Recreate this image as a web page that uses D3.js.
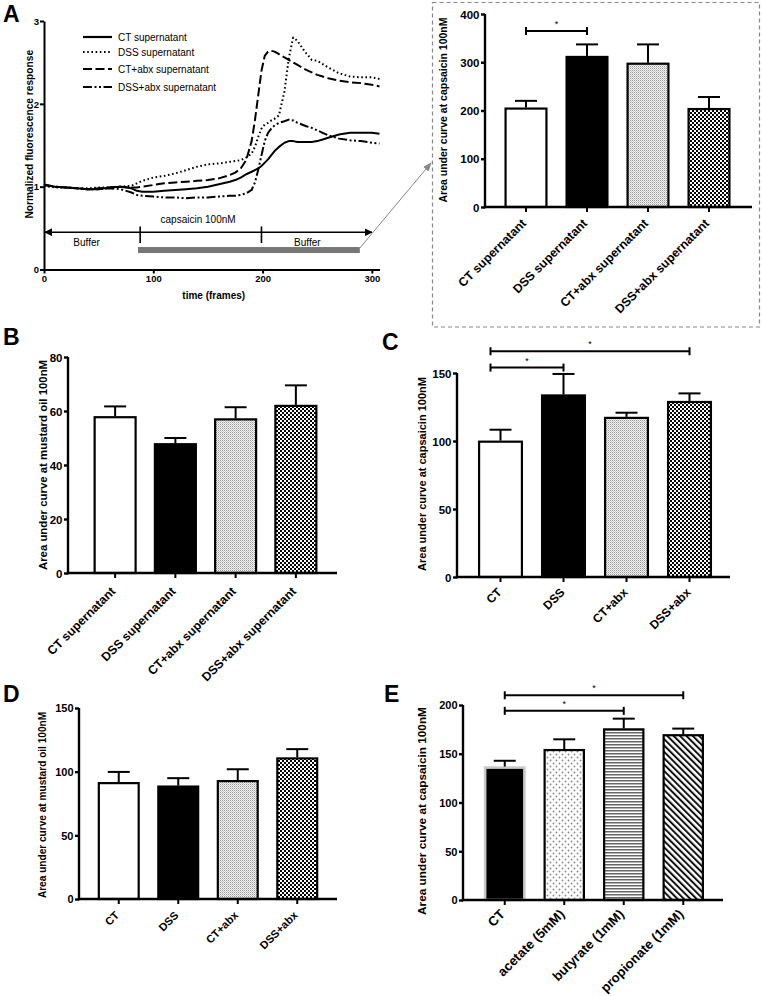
<!DOCTYPE html>
<html><head><meta charset="utf-8">
<script src="https://cdn.jsdelivr.net/npm/d3@7"></script>
<style>
body{margin:0;background:#fff}
svg{display:block}
text{font-family:"Liberation Sans",Arial,Helvetica,sans-serif}
</style>
</head><body>
<svg id="fig" width="763" height="996"></svg>
<script>
// ---------------- DATA ----------------
// Panel A (line chart): frames and normalized fluorescence response
const frames = [0,5,10,20,30,40,50,60,70,80,85,90,100,110,120,130,140,150,160,170,175,180,185,190,193,196,199,202,205,208,211,215,220,224,228,232,236,240,245,250,255,260,270,280,290,300,307];
const ctSup = [1.03,1.01,1.00,0.99,0.98,0.97,0.97,0.99,1.00,0.98,0.95,0.94,0.94,0.95,0.96,0.97,0.98,1.00,1.03,1.06,1.08,1.11,1.15,1.18,1.20,1.22,1.25,1.29,1.33,1.38,1.43,1.48,1.53,1.55,1.55,1.54,1.54,1.54,1.54,1.55,1.57,1.59,1.63,1.65,1.65,1.65,1.64];
const dssSup = [1.01,1.00,0.99,0.99,0.98,0.98,0.99,0.99,1.00,1.01,1.04,1.07,1.11,1.13,1.16,1.20,1.24,1.27,1.28,1.30,1.31,1.32,1.35,1.40,1.48,1.60,1.70,1.75,1.77,1.80,1.82,1.86,2.15,2.55,2.80,2.76,2.68,2.61,2.53,2.52,2.48,2.44,2.37,2.33,2.32,2.32,2.30];
const ctAbxSup = [1.02,1.01,1.00,0.99,0.98,0.97,0.98,0.99,1.00,0.99,0.99,1.00,1.02,1.04,1.05,1.06,1.07,1.08,1.10,1.14,1.17,1.22,1.32,1.55,1.80,2.10,2.40,2.58,2.63,2.64,2.63,2.60,2.56,2.53,2.50,2.47,2.44,2.41,2.38,2.35,2.33,2.31,2.28,2.26,2.25,2.23,2.21];
const dssAbxSup = [1.02,1.01,1.00,0.99,0.98,0.97,0.97,0.98,0.97,0.93,0.90,0.89,0.88,0.87,0.87,0.86,0.87,0.87,0.88,0.89,0.89,0.90,0.92,0.96,1.05,1.20,1.38,1.55,1.65,1.70,1.74,1.77,1.79,1.81,1.80,1.77,1.75,1.73,1.71,1.68,1.65,1.62,1.58,1.56,1.55,1.53,1.52];
const lineSeriesNames = ["CT supernatant","DSS supernatant","CT+abx supernatant","DSS+abx supernatant"];
const lineXTicks = [0,100,200,300];
const lineYTicks = [0,1,2,3];
const phaseTexts = ["Buffer","capsaicin 100nM","Buffer"];
const phaseBounds = [0, 88, 199, 300];     // frames
const capsaicinPeriod = [86, 289];        // frames (grey bar)

// Panel A (bar inset)
const aCategories = ["CT supernatant","DSS supernatant","CT+abx supernatant","DSS+abx supernatant"];
const aMeans = [204,311,297,203];
const aErrors = [16,26,40,25];
const aTicks = [0,100,200,300,400];
const aSigPairs = [[0,1]];
const aSigLevels = [365];

// Panel B
const bCategories = ["CT supernatant","DSS supernatant","CT+abx supernatant","DSS+abx supernatant"];
const bMeans = [57.7,47.7,56.9,61.9];
const bErrors = [4.0,2.3,4.5,7.6];
const bTicks = [0,20,40,60,80];

// Panel C
const cCategories = ["CT","DSS","CT+abx","DSS+abx"];
const cMeans = [99.5,133.5,117,128.7];
const cErrors = [8.8,15.8,3.8,6.3];
const cTicks = [0,50,100,150];
const cSigPairs = [[0,1],[0,3]];
const cSigLevels = [154,166];

// Panel D
const dCategories = ["CT","DSS","CT+abx","DSS+abx"];
const dMeans = [91,88.3,92.6,110.4];
const dErrors = [8.8,6.6,9.3,7.3];
const dTicks = [0,50,100,150];

// Panel E
const eCategories = ["CT","acetate (5mM)","butyrate (1mM)","propionate (1mM)"];
const eMeans = [135.8,153.8,175,169];
const eErrors = [7,11,11,6.8];
const eTicks = [0,50,100,150,200];
const eSigPairs = [[0,2],[0,3]];
const eSigLevels = [194,210];

// ---------------- DRAW ----------------
const svg = d3.select("#fig");
const FONT = "'Liberation Sans',Arial,sans-serif";
const defs = svg.append("defs");

// patterns
(function(){
  let p = defs.append("pattern").attr("id","stipple").attr("patternUnits","userSpaceOnUse").attr("width",2).attr("height",2);
  p.append("rect").attr("width",2).attr("height",2).attr("fill","#f2f2f2");
  p.append("rect").attr("x",0).attr("y",0).attr("width",1).attr("height",1).attr("fill","#9a9a9a");
  p.append("rect").attr("x",1).attr("y",1).attr("width",1).attr("height",1).attr("fill","#c8c8c8");

  p = defs.append("pattern").attr("id","checker").attr("patternUnits","userSpaceOnUse").attr("width",4).attr("height",4);
  p.append("rect").attr("width",4).attr("height",4).attr("fill","#000");
  p.append("rect").attr("x",0).attr("y",0).attr("width",2).attr("height",2).attr("fill","#fff");
  p.append("rect").attr("x",2).attr("y",2).attr("width",2).attr("height",2).attr("fill","#fff");

  p = defs.append("pattern").attr("id","dots").attr("patternUnits","userSpaceOnUse").attr("width",6).attr("height",6);
  p.append("rect").attr("width",6).attr("height",6).attr("fill","#fff");
  p.append("circle").attr("cx",1.5).attr("cy",1.5).attr("r",0.9).attr("fill","#888");
  p.append("circle").attr("cx",4.5).attr("cy",4.5).attr("r",0.9).attr("fill","#888");

  p = defs.append("pattern").attr("id","hlines").attr("patternUnits","userSpaceOnUse").attr("width",4).attr("height",3);
  p.append("rect").attr("width",4).attr("height",3).attr("fill","#fff");
  p.append("rect").attr("y",0).attr("width",4).attr("height",1.5).attr("fill","#666");

  p = defs.append("pattern").attr("id","diag").attr("patternUnits","userSpaceOnUse").attr("width",4.5).attr("height",4.5).attr("patternTransform","rotate(-45)");
  p.append("rect").attr("width",4.5).attr("height",4.5).attr("fill","#fff");
  p.append("rect").attr("width",2).attr("height",4.5).attr("fill","#111");

  const m = defs.append("marker").attr("id","arrowBlk").attr("viewBox","0 0 10 10").attr("refX",9).attr("refY",5)
    .attr("markerWidth",5).attr("markerHeight",5).attr("markerUnits","strokeWidth").attr("orient","auto-start-reverse");
  m.append("path").attr("d","M0,0L10,5L0,10Z").attr("fill","#000");
  const g = defs.append("marker").attr("id","arrowGrey").attr("viewBox","0 0 10 10").attr("refX",9).attr("refY",5)
    .attr("markerWidth",9).attr("markerHeight",9).attr("markerUnits","strokeWidth").attr("orient","auto");
  g.append("path").attr("d","M0,1L10,5L0,9Z").attr("fill","#888");
})();

function letter(t,x,y){
  svg.append("text").attr("x",x).attr("y",y).attr("font-size",23).attr("font-weight","bold").attr("font-family",FONT).text(t);
}

function styleAxis(g, w){
  g.select(".domain").attr("stroke","#000").attr("stroke-width",w);
  g.selectAll(".tick line").attr("stroke","#000").attr("stroke-width",w);
  g.selectAll(".tick text").attr("font-family",FONT).attr("font-weight","bold").attr("fill","#000");
}

// ---------- Panel A line chart ----------
(function(){
  const L = {x0:44, x1:379.5, yb:269.5, yt:21};
  const x = d3.scaleLinear().domain([0,307]).range([L.x0,L.x1]);
  const y = d3.scaleLinear().domain([0,3]).range([L.yb,L.yt]);
  const g = svg.append("g");
  const series = [ctSup, dssSup, ctAbxSup, dssAbxSup];
  const dashes = [null, "1.6,2.6", "9,3.5", "9,2.5,2,2.5,2,2.5"];
  const line = d3.line().x((d,i)=>x(frames[i])).y(d=>y(d));
  series.forEach((s,k)=>{
    g.append("path").attr("d",line(s)).attr("fill","none").attr("stroke","#000")
      .attr("stroke-width",2).attr("stroke-dasharray",dashes[k]).attr("stroke-linejoin","round");
  });
  // axes
  const ax = g.append("g").attr("transform",`translate(0,${L.yb})`)
    .call(d3.axisBottom(x).tickValues(lineXTicks).tickFormat(d3.format("d")).tickSize(4).tickSizeOuter(0).tickPadding(2));
  styleAxis(ax,2); ax.selectAll(".tick text").attr("font-size",9.5);
  const ay = g.append("g").attr("transform",`translate(${L.x0},0)`)
    .call(d3.axisLeft(y).tickValues(lineYTicks).tickFormat(d3.format("d")).tickSize(4).tickSizeOuter(0).tickPadding(1));
  styleAxis(ay,2); ay.selectAll(".tick text").attr("font-size",9.5).attr("dy","0.35em");
  g.append("text").attr("x",(L.x0+L.x1)/2+2).attr("y",299).attr("text-anchor","middle")
    .attr("font-size",10).attr("font-weight","bold").text("time (frames)");
  g.append("text").attr("transform",`translate(33,${(L.yt+L.yb)/2-11}) rotate(-90)`).attr("text-anchor","middle")
    .attr("font-size",10.2).attr("font-weight","bold").text("Normalized fluorescence response");
  // legend
  const legY = [37,52,69,87];
  lineSeriesNames.forEach((n,k)=>{
    g.append("line").attr("x1",83).attr("x2",112).attr("y1",legY[k]).attr("y2",legY[k])
      .attr("stroke","#000").attr("stroke-width",2.2).attr("stroke-dasharray",dashes[k]);
    g.append("text").attr("x",118).attr("y",legY[k]+3.5).attr("font-size",10).text(n);
  });
  // phase annotation
  const arrowV = 0.45;
  g.append("line").attr("x1",x(phaseBounds[0])+1).attr("x2",x(phaseBounds[3])).attr("y1",y(arrowV)).attr("y2",y(arrowV))
    .attr("stroke","#000").attr("stroke-width",1.6).attr("marker-start","url(#arrowBlk)").attr("marker-end","url(#arrowBlk)");
  [phaseBounds[1],phaseBounds[2]].forEach(f=>{
    g.append("line").attr("x1",x(f)).attr("x2",x(f)).attr("y1",y(0.52)).attr("y2",y(0.32)).attr("stroke","#000").attr("stroke-width",1.6);
  });
  const labPos = [[39,0.33],[141,0.6],[241,0.33]];
  phaseTexts.forEach((t,k)=>{
    g.append("text").attr("x",x(labPos[k][0])).attr("y",y(labPos[k][1])+3.5).attr("text-anchor","middle").attr("font-size",10).text(t);
  });
  g.append("rect").attr("x",x(capsaicinPeriod[0])).attr("width",x(capsaicinPeriod[1])-x(capsaicinPeriod[0]))
    .attr("y",y(0.235)-3).attr("height",6).attr("fill","#777");
  // connector to inset
  g.append("line").attr("x1",x(capsaicinPeriod[1])).attr("y1",y(0.235)-2).attr("x2",431).attr("y2",163)
    .attr("stroke","#888").attr("stroke-width",1).attr("marker-end","url(#arrowGrey)");
  letter("A",3,22);
})();

// ---------- Generic bar chart ----------
function barChart(c, cats, means, errs, ticks, fills, strokes, sigPairs, sigLevels){
  const g = svg.append("g");
  const x = d3.scaleBand().domain(cats).range([c.bx0,c.bx1]).paddingInner(c.pad).paddingOuter(c.pad/2);
  const y = d3.scaleLinear().domain([0,c.ymax]).range([c.yb,c.yt]);
  const bw = x.bandwidth();
  // bars
  cats.forEach((k,i)=>{
    g.append("rect").attr("x",x(k)).attr("width",bw).attr("y",y(means[i])).attr("height",y(0)-y(means[i]))
      .attr("fill",fills[i]).attr("stroke",strokes ? strokes[i] : "#000").attr("stroke-width",strokes && strokes[i]!=="#000" ? 2.6 : 2.2);
    const cx = x(k)+bw/2;
    g.append("line").attr("x1",cx).attr("x2",cx).attr("y1",y(means[i])-1).attr("y2",y(means[i]+errs[i])).attr("stroke","#000").attr("stroke-width",2);
    g.append("line").attr("x1",cx-c.cap).attr("x2",cx+c.cap).attr("y1",y(means[i]+errs[i])).attr("y2",y(means[i]+errs[i])).attr("stroke","#000").attr("stroke-width",2);
  });
  // y axis
  const ay = g.append("g").attr("transform",`translate(${c.ax},0)`)
    .call(d3.axisLeft(y).tickValues(ticks).tickFormat(d3.format("d")).tickSize(4).tickSizeOuter(0).tickPadding(1.5));
  styleAxis(ay,2.4); ay.selectAll(".tick text").attr("font-size",c.tickFs).attr("dy","0.36em");
  ay.select(".domain").attr("d",`M0,${c.yb+1.2}V${y(c.ymax)}`);
  // x axis line + ticks
  g.append("line").attr("x1",c.ax-1.2).attr("x2",c.axEnd).attr("y1",c.yb).attr("y2",c.yb).attr("stroke","#000").attr("stroke-width",2.4);
  cats.forEach((k,i)=>{
    const cx = x(k)+bw/2;
    g.append("line").attr("x1",cx).attr("x2",cx).attr("y1",c.yb).attr("y2",c.yb+5).attr("stroke","#000").attr("stroke-width",2);
    g.append("text").attr("transform",`translate(${cx+c.ldx},${c.yb+c.ldy}) rotate(-45)`).attr("text-anchor","end")
      .attr("font-size",c.labFs).attr("font-weight","bold").text(k);
  });
  // y title
  g.append("text").attr("transform",`translate(${c.tx},${c.ty}) rotate(-90)`).attr("text-anchor","middle")
    .attr("font-size",c.titleFs).attr("font-weight","bold").text(c.title);
  // significance
  if(sigPairs){
    sigPairs.forEach((p,j)=>{
      const xa = x(cats[p[0]])+bw/2 + (c.sigShift||0), xb = x(cats[p[1]])+bw/2, yy = y(sigLevels[j]);
      g.append("line").attr("x1",xa).attr("x2",xb).attr("y1",yy).attr("y2",yy).attr("stroke","#000").attr("stroke-width",2);
      [xa,xb].forEach(xx=>g.append("line").attr("x1",xx).attr("x2",xx).attr("y1",yy-4).attr("y2",yy+4).attr("stroke","#000").attr("stroke-width",2));
      g.append("text").attr("x",(xa+xb)/2).attr("y",yy-4).attr("text-anchor","middle").attr("font-size",9).attr("fill","#000").text("*");
    });
  }
}

// dashed inset box
svg.append("rect").attr("x",432.5).attr("y",2.5).attr("width",327).attr("height",324.5)
  .attr("fill","none").attr("stroke","#888").attr("stroke-width",1.2).attr("stroke-dasharray","4,3");

const fourFills = ["#fff","#000","url(#stipple)","url(#checker)"];

barChart({bx0:495.5,bx1:739.5,pad:0.33,ymax:400,yb:207,yt:14,ax:485,axEnd:752,cap:11,tickFs:11.5,labFs:12.3,ldx:1,ldy:17,
  tx:447,ty:110,titleFs:10.5,title:"Area under curve at capsaicin 100nM"},
  aCategories,aMeans,aErrors,aTicks,fourFills,null,aSigPairs,aSigLevels);

barChart({bx0:85,bx1:326,pad:0.32,ymax:80,yb:573,yt:357,ax:68,axEnd:337,cap:11,tickFs:11.5,labFs:12.3,ldx:1,ldy:19,
  tx:47,ty:465,titleFs:11.4,title:"Area under curve at mustard oil 100nM"},
  bCategories,bMeans,bErrors,bTicks,fourFills,null,null,null);
letter("B",3,345);

barChart({bx0:469,bx1:721,pad:0.32,ymax:150,yb:577,yt:373,ax:457,axEnd:730,cap:11,tickFs:11.5,labFs:12,ldx:2,ldy:16,
  tx:426,ty:474,titleFs:11,title:"Area under curve at capsaicin 100nM",sigShift:-10},
  cCategories,cMeans,cErrors,cTicks,fourFills,null,cSigPairs,cSigLevels);
letter("C",382,350);

barChart({bx0:89,bx1:327,pad:0.33,ymax:150,yb:899,yt:708,ax:79,axEnd:337,cap:11,tickFs:11,labFs:11,ldx:1,ldy:17,
  tx:46,ty:805,titleFs:10.1,title:"Area under curve at mustard oil 100nM"},
  dCategories,dMeans,dErrors,dTicks,fourFills,null,null,null);
letter("D",3,702);

barChart({bx0:475,bx1:713,pad:0.34,ymax:200,yb:900,yt:705,ax:463,axEnd:723,cap:11,tickFs:11,labFs:13.2,ldx:1,ldy:15,
  tx:426,ty:811,titleFs:11.8,title:"Area under curve at capsaicin 100nM"},
  eCategories,eMeans,eErrors,eTicks,["#000","url(#dots)","url(#hlines)","url(#diag)"],["#c8c8c8","#000","#000","#000"],eSigPairs,eSigLevels);
letter("E",384,702);
</script>
</body></html>
